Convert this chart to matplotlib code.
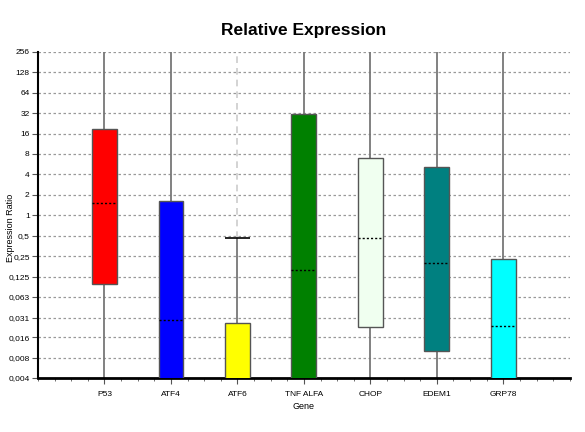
import numpy as np
import matplotlib
matplotlib.use("Agg")
import matplotlib.pyplot as plt
from matplotlib.ticker import FixedLocator, MultipleLocator

plt.rcParams['font.family'] = ['Liberation Sans Narrow', 'Liberation Sans', 'DejaVu Sans']

# 数据
genes = ['P53', 'ATF4', 'ATF6', 'TNF ALFA', 'CHOP', 'EDEM1', 'GRP78']
box_low = [0.096, 0.002, 0.002, 0.002, 0.0223, 0.0101, 0.002]
box_high = [18.5, 1.6, 0.0255, 31, 6.9, 5.1, 0.224]
medians = [1.5, 0.029, None, 0.154, 0.457, 0.196, 0.023]
whisk_low = [0.002, 0.002, 0.002, 0.002, 0.002, 0.002, 0.002]
whisk_high = [512, 512, 0.47, 512, 512, 512, 512]
colors = ['#ff0000', '#0000ff', '#ffff00', '#008000', '#f0fff0', '#008080', '#00ffff']

yticks = [256, 128, 64, 32, 16, 8, 4, 2, 1, 0.5, 0.25, 0.125, 0.063, 0.031, 0.016, 0.008, 0.004]
ytick_labels = ['256', '128', '64', '32', '16', '8', '4', '2', '1', '0,5', '0,25', '0,125',
                '0,063', '0,031', '0,016', '0,008', '0,004']

fig = plt.figure(figsize=(5.85, 4.32), dpi=100)
ax = fig.add_axes([0.065, 0.125, 0.909, 0.755])
ax.set_yscale('log', base=2)

x = np.arange(1, len(genes) + 1)
w = 0.375

# 须线
for i in range(len(genes)):
    ax.vlines(x[i], whisk_low[i], box_low[i], color='#777777', lw=1.3, zorder=2)
    ax.vlines(x[i], box_high[i], whisk_high[i], color='#777777', lw=1.3, zorder=2)
    if whisk_high[i] < 256:
        ax.hlines(whisk_high[i], x[i] - w / 2, x[i] + w / 2, color='black', lw=1.2, zorder=3)
        ax.vlines(x[i], whisk_high[i], 512, color='#cccccc', lw=1.2, linestyles=(0, (4, 3)), zorder=1)

# 箱体
heights = [h - l for h, l in zip(box_high, box_low)]
ax.bar(x, heights, bottom=box_low, width=w, color=colors, edgecolor='#555555', lw=1.0, zorder=3)

# 中位数
for i, m in enumerate(medians):
    if m is not None:
        ax.hlines(m, x[i] - w / 2, x[i] + w / 2, color='black', lw=1.0,
                  linestyles=(0, (1.5, 1.5)), zorder=4)

ax.set_ylim(0.004, 256)
ax.set_xlim(0, 8)
ax.yaxis.set_major_locator(FixedLocator(yticks))
ax.set_yticklabels(ytick_labels)
ax.yaxis.set_minor_locator(FixedLocator([]))
ax.set_xticks(x)
ax.set_xticklabels(genes)
ax.xaxis.set_minor_locator(MultipleLocator(0.25))

ax.grid(axis='y', which='major', color='#999999', lw=0.9, linestyle=(0, (2, 2)), zorder=0)
ax.set_axisbelow(True)

for s in ['top', 'right']:
    ax.spines[s].set_visible(False)
ax.spines['left'].set_linewidth(1.5)
ax.spines['bottom'].set_linewidth(2)

ax.tick_params(axis='both', which='major', labelsize=6, length=4, width=0.8, color='#555555')
ax.tick_params(axis='y', pad=2)
ax.tick_params(axis='x', which='minor', length=2, width=0.6, color='#555555')
ax.tick_params(axis='x', pad=5)

ax.set_xlabel('Gene', fontsize=6.5, labelpad=3)
ax.set_ylabel('Expression Ratio', fontsize=6.5)
ax.yaxis.set_label_coords(-0.044, 0.46)
ax.set_title('Relative Expression', fontsize=12.5, fontweight='bold', pad=12)

fig.savefig('out.png', dpi=100)
